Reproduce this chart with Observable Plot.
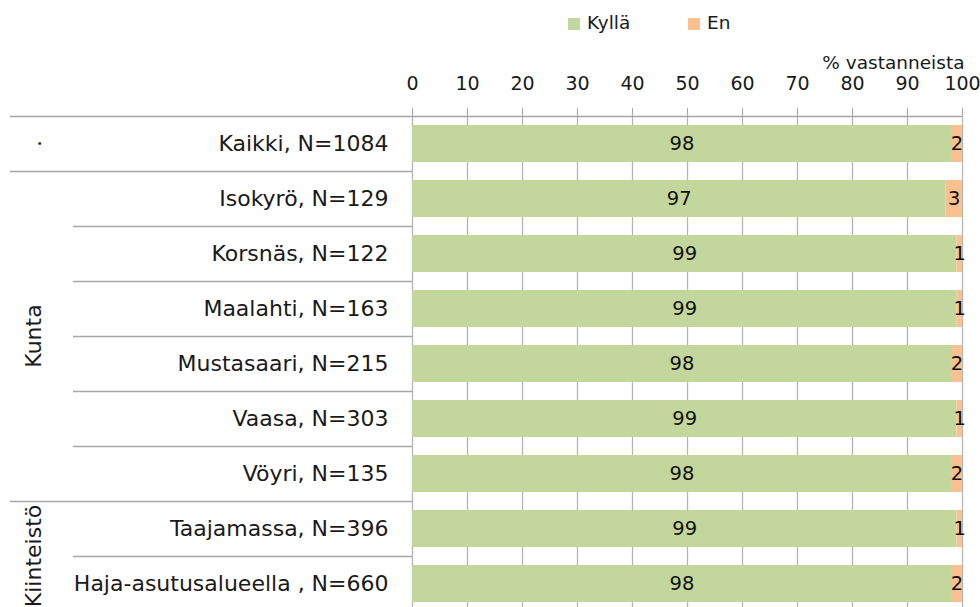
<!DOCTYPE html>
<html>
<head>
<meta charset="utf-8">
<script src="https://cdn.jsdelivr.net/npm/d3@7"></script>
<script src="https://cdn.jsdelivr.net/npm/@observablehq/plot@0.6"></script>
<style>
  html, body { margin: 0; padding: 0; background: #fff; overflow: hidden; width: 980px; height: 607px; }
  #legend { position: relative; height: 45px; font-family: "DejaVu Sans", sans-serif; font-size: 18.5px; color: #1a1a1a; }
  #legend .sw { position: absolute; top: 18px; width: 12px; height: 12px; }
  #legend .lt { position: absolute; top: 12px; line-height: 21px; white-space: nowrap; }
  #chart svg { display: block; }
</style>
</head>
<body>
<div id="legend"></div>
<div id="chart"></div>
<script>
// ---- data ----
const categories = [
  "Kaikki, N=1084",
  "Isokyrö, N=129",
  "Korsnäs, N=122",
  "Maalahti, N=163",
  "Mustasaari, N=215",
  "Vaasa, N=303",
  "Vöyri, N=135",
  "Taajamassa, N=396",
  "Haja-asutusalueella , N=660"
];
const kylla = [98, 97, 99, 99, 98, 99, 98, 99, 98];
const en    = [2, 3, 1, 1, 2, 1, 2, 1, 2];
const seriesNames = ["Kyllä", "En"];
const seriesColors = ["#C3D69B", "#FAC090"];
const groupNames = [".", "Kunta", "Kiinteistö"];
const groupSizes = [1, 6, 2];
const xTicks = [0, 10, 20, 30, 40, 50, 60, 70, 80, 90, 100];
const axisTitle = "% vastanneista";

// ---- table ----
const seriesValues = [kylla, en];
const table = [];
seriesNames.forEach((s, si) => {
  categories.forEach((c, i) => table.push({cat: c, series: s, value: seriesValues[si][i]}));
});

// ---- legend (HTML, above the SVG) ----
const legend = document.getElementById("legend");
const legendPos = [[568, 587], [688, 707]];
seriesNames.forEach((s, i) => {
  const sw = document.createElement("div");
  sw.className = "sw";
  sw.style.left = legendPos[i][0] + "px";
  sw.style.background = seriesColors[i];
  legend.appendChild(sw);
  const t = document.createElement("div");
  t.className = "lt";
  t.style.left = legendPos[i][1] + "px";
  t.textContent = s;
  legend.appendChild(t);
});

// ---- group labels & separator lines, drawn from the y scale ----
function decor(index, scales, values, dims) {
  const y = scales.y;
  const bw = y.bandwidth();
  const step = y.step();
  const g = d3.create("svg:g");
  const firstOfGroup = new Set();
  let s = 0;
  groupSizes.forEach(n => { firstOfGroup.add(s); s += n; });
  categories.forEach((c, i) => {
    const yy = Math.round(y(c) + bw / 2 - step / 2) + 0.5;
    const x1 = firstOfGroup.has(i) ? 10 : 73;
    const x2 = i === 0 ? dims.width - dims.marginRight : dims.marginLeft;
    g.append("line")
      .attr("x1", x1).attr("x2", x2)
      .attr("y1", yy).attr("y2", yy)
      .attr("stroke", "#a6a6a6").attr("stroke-width", 1.3);
  });
  s = 0;
  groupNames.forEach((name, k) => {
    const n = groupSizes[k];
    const top = y(categories[s]) + bw / 2 - step / 2;
    const bottom = y(categories[s + n - 1]) + bw / 2 + step / 2;
    const cy = (top + bottom) / 2;
    g.append("text")
      .attr("transform", `translate(41,${cy}) rotate(-90)`)
      .attr("text-anchor", "middle")
      .attr("font-size", 22)
      .attr("fill", "#1a1a1a")
      .text(name);
    s += n;
  });
  return g.node();
}

const chart = Plot.plot({
  width: 980,
  height: 568,
  marginTop: 68,
  marginBottom: 0,
  marginLeft: 412,
  marginRight: 18,
  style: {fontFamily: "DejaVu Sans", color: "#1a1a1a", background: "white", overflow: "visible"},
  x: {domain: [0, 100]},
  y: {domain: categories, paddingInner: 0.333, paddingOuter: 0.1665, label: null},
  color: {domain: seriesNames, range: seriesColors},
  marks: [
    Plot.gridX(xTicks, {stroke: "#b5b5b5", strokeOpacity: 1, strokeWidth: 1.3}),
    Plot.barX(table, Plot.stackX({x: "value", y: "cat", fill: "series", z: "series"})),
    Plot.text(table, Plot.stackX({x: "value", y: "cat", z: "series", text: d => String(d.value), fontSize: 19.5, fill: "#111"})),
    Plot.axisX({anchor: "top", ticks: xTicks, tickSize: 6, tickPadding: 18, fontSize: 19,
      stroke: "#a6a6a6", fill: "#1a1a1a", label: null}),
    Plot.text([axisTitle], {frameAnchor: "top-right", dx: 2, dy: -58, lineAnchor: "top", textAnchor: "end", fontSize: 18.5, fill: "#1a1a1a"}),
    Plot.axisY({tickSize: 0, tickPadding: 24, fontSize: 22, fill: "#1a1a1a", label: null}),
    decor
  ]
});
document.getElementById("chart").appendChild(chart);
</script>
</body>
</html>
